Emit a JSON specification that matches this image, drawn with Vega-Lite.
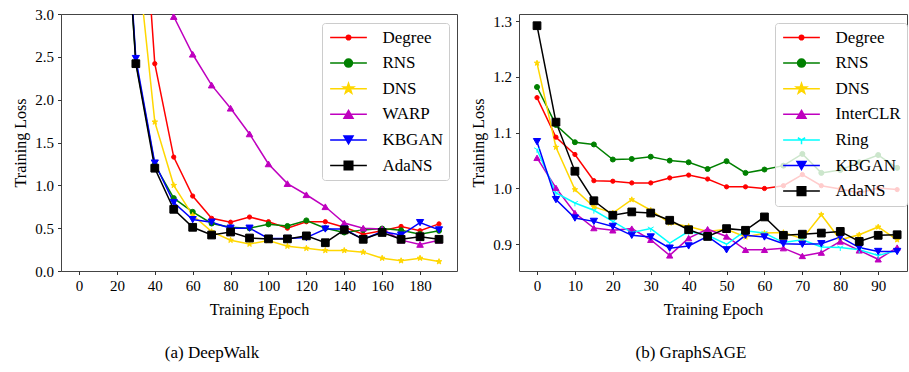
{
  "$schema": "https://vega.github.io/schema/vega-lite/v6.json",
  "background": "white",
  "padding": {"left": 12, "top": 6, "right": 0, "bottom": 5},
  "spacing": 12,
  "config": {
    "font": "Liberation Serif",
    "view": {"stroke": "#444", "strokeWidth": 1},
    "axis": {"grid": false, "domain": false, "tickColor": "#333", "tickSize": 3.5, "tickWidth": 1, "labelFontSize": 15, "titleFontSize": 16, "labelColor": "#000", "titleColor": "#000", "titleFontWeight": "normal", "labelFont": "Liberation Serif", "titleFont": "Liberation Serif", "labelPadding": 4},
    "legend": {
      "title": null, "orient": "none", "padding": 6, "rowPadding": 7.6, "symbolSize": 150, "symbolOffset": 12, "labelOffset": 25.5,
      "labelFontSize": 17, "labelFont": "Liberation Serif", "labelColor": "#000",
      "fillColor": "rgba(255,255,255,0.8)", "strokeColor": "#cccccc", "cornerRadius": 3, "zindex": 1,
      "symbolStrokeWidth": 1.5, "symbolOpacity": 1
    },
    "title": {"font": "Liberation Serif", "fontWeight": "normal", "color": "#000", "fontSize": 17}
  },
  "datasets": {
    "deepwalk": [
      {"epoch":0,"method":"Degree","loss":14},{"epoch":10,"method":"Degree","loss":11},{"epoch":20,"method":"Degree","loss":8.5},{"epoch":30,"method":"Degree","loss":5.6},{"epoch":40,"method":"Degree","loss":2.42},{"epoch":50,"method":"Degree","loss":1.33},{"epoch":60,"method":"Degree","loss":0.875},{"epoch":70,"method":"Degree","loss":0.615},{"epoch":80,"method":"Degree","loss":0.57},{"epoch":90,"method":"Degree","loss":0.63},{"epoch":100,"method":"Degree","loss":0.575},{"epoch":110,"method":"Degree","loss":0.5},{"epoch":120,"method":"Degree","loss":0.575},{"epoch":130,"method":"Degree","loss":0.575},{"epoch":140,"method":"Degree","loss":0.51},{"epoch":150,"method":"Degree","loss":0.43},{"epoch":160,"method":"Degree","loss":0.47},{"epoch":170,"method":"Degree","loss":0.52},{"epoch":180,"method":"Degree","loss":0.47},{"epoch":190,"method":"Degree","loss":0.55},
      {"epoch":0,"method":"RNS","loss":12},{"epoch":10,"method":"RNS","loss":9},{"epoch":20,"method":"RNS","loss":5.8},{"epoch":30,"method":"RNS","loss":2.44},{"epoch":40,"method":"RNS","loss":1.24},{"epoch":50,"method":"RNS","loss":0.85},{"epoch":60,"method":"RNS","loss":0.69},{"epoch":70,"method":"RNS","loss":0.555},{"epoch":80,"method":"RNS","loss":0.51},{"epoch":90,"method":"RNS","loss":0.5},{"epoch":100,"method":"RNS","loss":0.545},{"epoch":110,"method":"RNS","loss":0.525},{"epoch":120,"method":"RNS","loss":0.59},{"epoch":130,"method":"RNS","loss":0.5},{"epoch":140,"method":"RNS","loss":0.45},{"epoch":150,"method":"RNS","loss":0.48},{"epoch":160,"method":"RNS","loss":0.495},{"epoch":170,"method":"RNS","loss":0.475},{"epoch":180,"method":"RNS","loss":0.43},{"epoch":190,"method":"RNS","loss":0.47},
      {"epoch":0,"method":"DNS","loss":12},{"epoch":10,"method":"DNS","loss":9},{"epoch":20,"method":"DNS","loss":6.5},{"epoch":30,"method":"DNS","loss":3.85},{"epoch":40,"method":"DNS","loss":1.74},{"epoch":50,"method":"DNS","loss":1.0},{"epoch":60,"method":"DNS","loss":0.65},{"epoch":70,"method":"DNS","loss":0.46},{"epoch":80,"method":"DNS","loss":0.36},{"epoch":90,"method":"DNS","loss":0.315},{"epoch":100,"method":"DNS","loss":0.355},{"epoch":110,"method":"DNS","loss":0.29},{"epoch":120,"method":"DNS","loss":0.265},{"epoch":130,"method":"DNS","loss":0.24},{"epoch":140,"method":"DNS","loss":0.24},{"epoch":150,"method":"DNS","loss":0.22},{"epoch":160,"method":"DNS","loss":0.15},{"epoch":170,"method":"DNS","loss":0.12},{"epoch":180,"method":"DNS","loss":0.15},{"epoch":190,"method":"DNS","loss":0.11},
      {"epoch":0,"method":"WARP","loss":14},{"epoch":10,"method":"WARP","loss":11},{"epoch":20,"method":"WARP","loss":8},{"epoch":30,"method":"WARP","loss":5.5},{"epoch":40,"method":"WARP","loss":3.9},{"epoch":50,"method":"WARP","loss":2.97},{"epoch":60,"method":"WARP","loss":2.53},{"epoch":70,"method":"WARP","loss":2.17},{"epoch":80,"method":"WARP","loss":1.9},{"epoch":90,"method":"WARP","loss":1.6},{"epoch":100,"method":"WARP","loss":1.25},{"epoch":110,"method":"WARP","loss":1.02},{"epoch":120,"method":"WARP","loss":0.89},{"epoch":130,"method":"WARP","loss":0.75},{"epoch":140,"method":"WARP","loss":0.56},{"epoch":150,"method":"WARP","loss":0.5},{"epoch":160,"method":"WARP","loss":0.49},{"epoch":170,"method":"WARP","loss":0.36},{"epoch":180,"method":"WARP","loss":0.31},{"epoch":190,"method":"WARP","loss":0.36},
      {"epoch":0,"method":"KBGAN","loss":12},{"epoch":10,"method":"KBGAN","loss":9},{"epoch":20,"method":"KBGAN","loss":5.9},{"epoch":30,"method":"KBGAN","loss":2.48},{"epoch":40,"method":"KBGAN","loss":1.26},{"epoch":50,"method":"KBGAN","loss":0.8},{"epoch":60,"method":"KBGAN","loss":0.6},{"epoch":70,"method":"KBGAN","loss":0.57},{"epoch":80,"method":"KBGAN","loss":0.5},{"epoch":90,"method":"KBGAN","loss":0.5},{"epoch":100,"method":"KBGAN","loss":0.38},{"epoch":110,"method":"KBGAN","loss":0.38},{"epoch":120,"method":"KBGAN","loss":0.39},{"epoch":130,"method":"KBGAN","loss":0.49},{"epoch":140,"method":"KBGAN","loss":0.49},{"epoch":150,"method":"KBGAN","loss":0.37},{"epoch":160,"method":"KBGAN","loss":0.46},{"epoch":170,"method":"KBGAN","loss":0.42},{"epoch":180,"method":"KBGAN","loss":0.565},{"epoch":190,"method":"KBGAN","loss":0.48},
      {"epoch":0,"method":"AdaNS","loss":12},{"epoch":10,"method":"AdaNS","loss":9},{"epoch":20,"method":"AdaNS","loss":5.8},{"epoch":30,"method":"AdaNS","loss":2.42},{"epoch":40,"method":"AdaNS","loss":1.2},{"epoch":50,"method":"AdaNS","loss":0.72},{"epoch":60,"method":"AdaNS","loss":0.51},{"epoch":70,"method":"AdaNS","loss":0.42},{"epoch":80,"method":"AdaNS","loss":0.455},{"epoch":90,"method":"AdaNS","loss":0.385},{"epoch":100,"method":"AdaNS","loss":0.375},{"epoch":110,"method":"AdaNS","loss":0.375},{"epoch":120,"method":"AdaNS","loss":0.41},{"epoch":130,"method":"AdaNS","loss":0.33},{"epoch":140,"method":"AdaNS","loss":0.48},{"epoch":150,"method":"AdaNS","loss":0.37},{"epoch":160,"method":"AdaNS","loss":0.45},{"epoch":170,"method":"AdaNS","loss":0.37},{"epoch":180,"method":"AdaNS","loss":0.4},{"epoch":190,"method":"AdaNS","loss":0.37}
    ],
    "graphsage": [
      {"epoch":0,"method":"Degree","loss":1.163},{"epoch":5,"method":"Degree","loss":1.092},{"epoch":10,"method":"Degree","loss":1.061},{"epoch":15,"method":"Degree","loss":1.014},{"epoch":20,"method":"Degree","loss":1.013},{"epoch":25,"method":"Degree","loss":1.01},{"epoch":30,"method":"Degree","loss":1.01},{"epoch":35,"method":"Degree","loss":1.019},{"epoch":40,"method":"Degree","loss":1.024},{"epoch":45,"method":"Degree","loss":1.017},{"epoch":50,"method":"Degree","loss":1.003},{"epoch":55,"method":"Degree","loss":1.003},{"epoch":60,"method":"Degree","loss":1.0},{"epoch":65,"method":"Degree","loss":1.005},{"epoch":70,"method":"Degree","loss":1.025},{"epoch":75,"method":"Degree","loss":1.005},{"epoch":80,"method":"Degree","loss":0.999},{"epoch":85,"method":"Degree","loss":0.992},{"epoch":90,"method":"Degree","loss":1.001},{"epoch":95,"method":"Degree","loss":0.998},
      {"epoch":0,"method":"RNS","loss":1.182},{"epoch":5,"method":"RNS","loss":1.114},{"epoch":10,"method":"RNS","loss":1.083},{"epoch":15,"method":"RNS","loss":1.079},{"epoch":20,"method":"RNS","loss":1.052},{"epoch":25,"method":"RNS","loss":1.053},{"epoch":30,"method":"RNS","loss":1.057},{"epoch":35,"method":"RNS","loss":1.05},{"epoch":40,"method":"RNS","loss":1.047},{"epoch":45,"method":"RNS","loss":1.035},{"epoch":50,"method":"RNS","loss":1.049},{"epoch":55,"method":"RNS","loss":1.028},{"epoch":60,"method":"RNS","loss":1.034},{"epoch":65,"method":"RNS","loss":1.041},{"epoch":70,"method":"RNS","loss":1.062},{"epoch":75,"method":"RNS","loss":1.028},{"epoch":80,"method":"RNS","loss":1.033},{"epoch":85,"method":"RNS","loss":1.047},{"epoch":90,"method":"RNS","loss":1.06},{"epoch":95,"method":"RNS","loss":1.037},
      {"epoch":0,"method":"DNS","loss":1.225},{"epoch":5,"method":"DNS","loss":1.074},{"epoch":10,"method":"DNS","loss":0.998},{"epoch":15,"method":"DNS","loss":0.967},{"epoch":20,"method":"DNS","loss":0.956},{"epoch":25,"method":"DNS","loss":0.98},{"epoch":30,"method":"DNS","loss":0.961},{"epoch":35,"method":"DNS","loss":0.938},{"epoch":40,"method":"DNS","loss":0.932},{"epoch":45,"method":"DNS","loss":0.923},{"epoch":50,"method":"DNS","loss":0.927},{"epoch":55,"method":"DNS","loss":0.913},{"epoch":60,"method":"DNS","loss":0.92},{"epoch":65,"method":"DNS","loss":0.921},{"epoch":70,"method":"DNS","loss":0.91},{"epoch":75,"method":"DNS","loss":0.953},{"epoch":80,"method":"DNS","loss":0.908},{"epoch":85,"method":"DNS","loss":0.917},{"epoch":90,"method":"DNS","loss":0.931},{"epoch":95,"method":"DNS","loss":0.908},
      {"epoch":0,"method":"InterCLR","loss":1.055},{"epoch":5,"method":"InterCLR","loss":1.001},{"epoch":10,"method":"InterCLR","loss":0.956},{"epoch":15,"method":"InterCLR","loss":0.929},{"epoch":20,"method":"InterCLR","loss":0.925},{"epoch":25,"method":"InterCLR","loss":0.928},{"epoch":30,"method":"InterCLR","loss":0.908},{"epoch":35,"method":"InterCLR","loss":0.88},{"epoch":40,"method":"InterCLR","loss":0.911},{"epoch":45,"method":"InterCLR","loss":0.927},{"epoch":50,"method":"InterCLR","loss":0.914},{"epoch":55,"method":"InterCLR","loss":0.89},{"epoch":60,"method":"InterCLR","loss":0.89},{"epoch":65,"method":"InterCLR","loss":0.893},{"epoch":70,"method":"InterCLR","loss":0.879},{"epoch":75,"method":"InterCLR","loss":0.885},{"epoch":80,"method":"InterCLR","loss":0.905},{"epoch":85,"method":"InterCLR","loss":0.889},{"epoch":90,"method":"InterCLR","loss":0.873},{"epoch":95,"method":"InterCLR","loss":0.894},
      {"epoch":0,"method":"Ring","loss":1.07},{"epoch":5,"method":"Ring","loss":0.992},{"epoch":10,"method":"Ring","loss":0.974},{"epoch":15,"method":"Ring","loss":0.961},{"epoch":20,"method":"Ring","loss":0.941},{"epoch":25,"method":"Ring","loss":0.921},{"epoch":30,"method":"Ring","loss":0.928},{"epoch":35,"method":"Ring","loss":0.902},{"epoch":40,"method":"Ring","loss":0.923},{"epoch":45,"method":"Ring","loss":0.916},{"epoch":50,"method":"Ring","loss":0.9},{"epoch":55,"method":"Ring","loss":0.924},{"epoch":60,"method":"Ring","loss":0.92},{"epoch":65,"method":"Ring","loss":0.903},{"epoch":70,"method":"Ring","loss":0.908},{"epoch":75,"method":"Ring","loss":0.895},{"epoch":80,"method":"Ring","loss":0.894},{"epoch":85,"method":"Ring","loss":0.89},{"epoch":90,"method":"Ring","loss":0.88},{"epoch":95,"method":"Ring","loss":0.889},
      {"epoch":0,"method":"KBGAN","loss":1.084},{"epoch":5,"method":"KBGAN","loss":0.98},{"epoch":10,"method":"KBGAN","loss":0.947},{"epoch":15,"method":"KBGAN","loss":0.941},{"epoch":20,"method":"KBGAN","loss":0.932},{"epoch":25,"method":"KBGAN","loss":0.916},{"epoch":30,"method":"KBGAN","loss":0.913},{"epoch":35,"method":"KBGAN","loss":0.893},{"epoch":40,"method":"KBGAN","loss":0.897},{"epoch":45,"method":"KBGAN","loss":0.914},{"epoch":50,"method":"KBGAN","loss":0.89},{"epoch":55,"method":"KBGAN","loss":0.916},{"epoch":60,"method":"KBGAN","loss":0.913},{"epoch":65,"method":"KBGAN","loss":0.901},{"epoch":70,"method":"KBGAN","loss":0.9},{"epoch":75,"method":"KBGAN","loss":0.901},{"epoch":80,"method":"KBGAN","loss":0.913},{"epoch":85,"method":"KBGAN","loss":0.894},{"epoch":90,"method":"KBGAN","loss":0.887},{"epoch":95,"method":"KBGAN","loss":0.887},
      {"epoch":0,"method":"AdaNS","loss":1.292},{"epoch":5,"method":"AdaNS","loss":1.119},{"epoch":10,"method":"AdaNS","loss":1.031},{"epoch":15,"method":"AdaNS","loss":0.978},{"epoch":20,"method":"AdaNS","loss":0.952},{"epoch":25,"method":"AdaNS","loss":0.958},{"epoch":30,"method":"AdaNS","loss":0.956},{"epoch":35,"method":"AdaNS","loss":0.943},{"epoch":40,"method":"AdaNS","loss":0.926},{"epoch":45,"method":"AdaNS","loss":0.914},{"epoch":50,"method":"AdaNS","loss":0.928},{"epoch":55,"method":"AdaNS","loss":0.925},{"epoch":60,"method":"AdaNS","loss":0.949},{"epoch":65,"method":"AdaNS","loss":0.916},{"epoch":70,"method":"AdaNS","loss":0.918},{"epoch":75,"method":"AdaNS","loss":0.92},{"epoch":80,"method":"AdaNS","loss":0.923},{"epoch":85,"method":"AdaNS","loss":0.905},{"epoch":90,"method":"AdaNS","loss":0.916},{"epoch":95,"method":"AdaNS","loss":0.917}
    ]
  },
  "resolve": {"scale": {"color": "independent", "shape": "independent", "size": "independent", "stroke": "independent", "fill": "independent"}, "legend": {"color": "independent", "shape": "independent", "fill": "independent", "stroke": "independent"}},
  "hconcat": [
    {
      "width": 396, "height": 257,
      "data": {"name": "deepwalk"},
      "title": {"text": "(a) DeepWalk", "orient": "bottom", "anchor": "middle", "offset": 27, "dx": -47},
      "resolve": {"scale": {"shape": "independent", "size": "independent", "fill": "independent", "stroke": "independent"}, "legend": {"shape": "independent", "fill": "independent", "stroke": "independent"}},
      "layer": [
        {
          "mark": {"type": "line", "strokeWidth": 1.5, "clip": true},
          "encoding": {
            "x": {"field": "epoch", "type": "quantitative", "title": "Training Epoch", "scale": {"domain": [-9.5, 199.5], "nice": false, "zero": false}, "axis": {"values": [0,10,20,30,40,50,60,70,80,90,100,110,120,130,140,150,160,170,180,190], "labelExpr": "datum.value % 20 === 0 ? datum.label : ''", "titlePadding": 8}},
            "y": {"field": "loss", "type": "quantitative", "title": "Training Loss", "scale": {"domain": [0, 3], "nice": false}, "axis": {"values": [0,0.5,1,1.5,2,2.5,3], "format": ".1f", "titlePadding": 6}},
            "color": {"field": "method", "type": "nominal", "sort": null, "scale": {"domain": ["Degree","RNS","DNS","WARP","KBGAN","AdaNS"], "range": ["#ff0000","#008000","#ffd700","#bf00bf","#0000ff","#000000"]}, "legend": null}
          }
        },
        {
          "mark": {"type": "point", "opacity": 1, "strokeWidth": 1, "clip": true},
          "encoding": {
            "x": {"field": "epoch", "type": "quantitative"},
            "y": {"field": "loss", "type": "quantitative"},
            "fill": {"field": "method", "type": "nominal", "scale": {"domain": ["Degree","RNS","DNS","WARP","KBGAN","AdaNS"], "range": ["#ff0000","#008000","#ffd700","#bf00bf","#0000ff","#000000"]}, "legend": null},
            "stroke": {"field": "method", "type": "nominal", "scale": {"domain": ["Degree","RNS","DNS","WARP","KBGAN","AdaNS"], "range": ["#ff0000","#008000","#ffd700","#bf00bf","#0000ff","#000000"]}, "legend": null},
            "shape": {"field": "method", "type": "nominal", "scale": {"domain": ["Degree","RNS","DNS","WARP","KBGAN","AdaNS"], "range": ["circle","circle","M0,-1L0.235,-0.324L0.951,-0.309L0.38,0.124L0.588,0.809L0,0.4L-0.588,0.809L-0.38,0.124L-0.951,-0.309L-0.235,-0.324Z","triangle-up","triangle-down","square"]}, "legend": null},
            "size": {"field": "method", "type": "nominal", "scale": {"domain": ["Degree","RNS","DNS","WARP","KBGAN","AdaNS"], "range": [18,60,121,90,90,75]}, "legend": null}
          }
        },
        {
          "transform": [{"filter": "datum.epoch < -100"}],
          "mark": {"type": "point", "size": 150, "strokeWidth": 1.5, "opacity": 1},
          "encoding": {
            "x": {"field": "epoch", "type": "quantitative"},
            "y": {"field": "loss", "type": "quantitative"},
            "fill": {"field": "method", "type": "nominal", "scale": {"domain": ["Degree","RNS","DNS","WARP","KBGAN","AdaNS"], "range": ["#ff0000","#008000","#ffd700","#bf00bf","#0000ff","#000000"]}, "legend": {"legendX": 261, "legendY": 9}},
            "stroke": {"field": "method", "type": "nominal", "scale": {"domain": ["Degree","RNS","DNS","WARP","KBGAN","AdaNS"], "range": ["#ff0000","#008000","#ffd700","#bf00bf","#0000ff","#000000"]}, "legend": {"legendX": 261, "legendY": 9}},
            "shape": {"field": "method", "type": "nominal", "scale": {"domain": ["Degree","RNS","DNS","WARP","KBGAN","AdaNS"], "range": [
              "M-3,0H3M-0.37,0A0.37,0.37 0 1,0 0.37,0A0.37,0.37 0 1,0 -0.37,0Z",
              "M-3,0H3M-0.65,0A0.65,0.65 0 1,0 0.65,0A0.65,0.65 0 1,0 -0.65,0Z",
              "M-3,0H3M0,-0.9L0.21,-0.29L0.86,-0.28L0.34,0.11L0.53,0.73L0,0.36L-0.53,0.73L-0.34,0.11L-0.86,-0.28L-0.21,-0.29Z",
              "M-3,0H3M0,-0.64L0.74,0.64L-0.74,0.64Z",
              "M-3,0H3M0,0.64L0.74,-0.64L-0.74,-0.64Z",
              "M-3,0H3M-0.7,-0.7H0.7V0.7H-0.7Z"]}, "legend": {"legendX": 261, "legendY": 9}}
          }
        }
      ]
    },
    {
      "width": 388, "height": 257,
      "data": {"name": "graphsage"},
      "title": {"text": "(b) GraphSAGE", "orient": "bottom", "anchor": "middle", "offset": 27, "dx": -22},
      "resolve": {"scale": {"shape": "independent", "size": "independent", "fill": "independent", "stroke": "independent"}, "legend": {"shape": "independent", "fill": "independent", "stroke": "independent"}},
      "layer": [
        {
          "mark": {"type": "line", "strokeWidth": 1.5, "clip": true},
          "encoding": {
            "x": {"field": "epoch", "type": "quantitative", "title": "Training Epoch", "scale": {"domain": [-4.75, 97.6], "nice": false, "zero": false}, "axis": {"values": [0,5,10,15,20,25,30,35,40,45,50,55,60,65,70,75,80,85,90,95], "labelExpr": "datum.value % 10 === 0 ? datum.label : ''", "titlePadding": 8}},
            "y": {"field": "loss", "type": "quantitative", "title": "Training Loss", "scale": {"domain": [0.852, 1.313], "nice": false, "zero": false}, "axis": {"values": [0.9,1.0,1.1,1.2,1.3], "format": ".1f", "titlePadding": 6}},
            "color": {"field": "method", "type": "nominal", "sort": null, "scale": {"domain": ["Degree","RNS","DNS","InterCLR","Ring","KBGAN","AdaNS"], "range": ["#ff0000","#008000","#ffd700","#bf00bf","#00ffff","#0000ff","#000000"]}, "legend": null}
          }
        },
        {
          "mark": {"type": "point", "opacity": 1, "strokeWidth": 1, "clip": true},
          "encoding": {
            "x": {"field": "epoch", "type": "quantitative"},
            "y": {"field": "loss", "type": "quantitative"},
            "fill": {"field": "method", "type": "nominal", "scale": {"domain": ["Degree","RNS","DNS","InterCLR","Ring","KBGAN","AdaNS"], "range": ["#ff0000","#008000","#ffd700","#bf00bf","#00ffff","#0000ff","#000000"]}, "legend": null},
            "stroke": {"field": "method", "type": "nominal", "scale": {"domain": ["Degree","RNS","DNS","InterCLR","Ring","KBGAN","AdaNS"], "range": ["#ff0000","#008000","#ffd700","#bf00bf","#00ffff","#0000ff","#000000"]}, "legend": null},
            "shape": {"field": "method", "type": "nominal", "scale": {"domain": ["Degree","RNS","DNS","InterCLR","Ring","KBGAN","AdaNS"], "range": ["circle","circle","M0,-1L0.235,-0.324L0.951,-0.309L0.38,0.124L0.588,0.809L0,0.4L-0.588,0.809L-0.38,0.124L-0.951,-0.309L-0.235,-0.324Z","triangle-up","M0,0L0,1M0,0L-0.866,-0.5M0,0L0.866,-0.5","triangle-down","square"]}, "legend": null},
            "size": {"field": "method", "type": "nominal", "scale": {"domain": ["Degree","RNS","DNS","InterCLR","Ring","KBGAN","AdaNS"], "range": [18,60,110,80,81,80,64]}, "legend": null}
          }
        },
        {
          "transform": [{"filter": "datum.epoch < -100"}],
          "mark": {"type": "point", "size": 150, "strokeWidth": 1.5, "opacity": 1},
          "encoding": {
            "x": {"field": "epoch", "type": "quantitative"},
            "y": {"field": "loss", "type": "quantitative"},
            "fill": {"field": "method", "type": "nominal", "scale": {"domain": ["Degree","RNS","DNS","InterCLR","Ring","KBGAN","AdaNS"], "range": ["#ff0000","#008000","#ffd700","#bf00bf","#00ffff","#0000ff","#000000"]}, "legend": {"legendX": 256, "legendY": 9}},
            "stroke": {"field": "method", "type": "nominal", "scale": {"domain": ["Degree","RNS","DNS","InterCLR","Ring","KBGAN","AdaNS"], "range": ["#ff0000","#008000","#ffd700","#bf00bf","#00ffff","#0000ff","#000000"]}, "legend": {"legendX": 256, "legendY": 9}},
            "shape": {"field": "method", "type": "nominal", "scale": {"domain": ["Degree","RNS","DNS","InterCLR","Ring","KBGAN","AdaNS"], "range": [
              "M-3,0H3M-0.37,0A0.37,0.37 0 1,0 0.37,0A0.37,0.37 0 1,0 -0.37,0Z",
              "M-3,0H3M-0.65,0A0.65,0.65 0 1,0 0.65,0A0.65,0.65 0 1,0 -0.65,0Z",
              "M-3,0H3M0,-0.9L0.21,-0.29L0.86,-0.28L0.34,0.11L0.53,0.73L0,0.36L-0.53,0.73L-0.34,0.11L-0.86,-0.28L-0.21,-0.29Z",
              "M-3,0H3M0,-0.64L0.74,0.64L-0.74,0.64Z",
              "M-3,0H3M0,0V0.7M0,0L-0.6,-0.35M0,0L0.6,-0.35",
              "M-3,0H3M0,0.64L0.74,-0.64L-0.74,-0.64Z",
              "M-3,0H3M-0.7,-0.7H0.7V0.7H-0.7Z"]}, "legend": {"legendX": 256, "legendY": 9}}
          }
        }
      ]
    }
  ]
}
